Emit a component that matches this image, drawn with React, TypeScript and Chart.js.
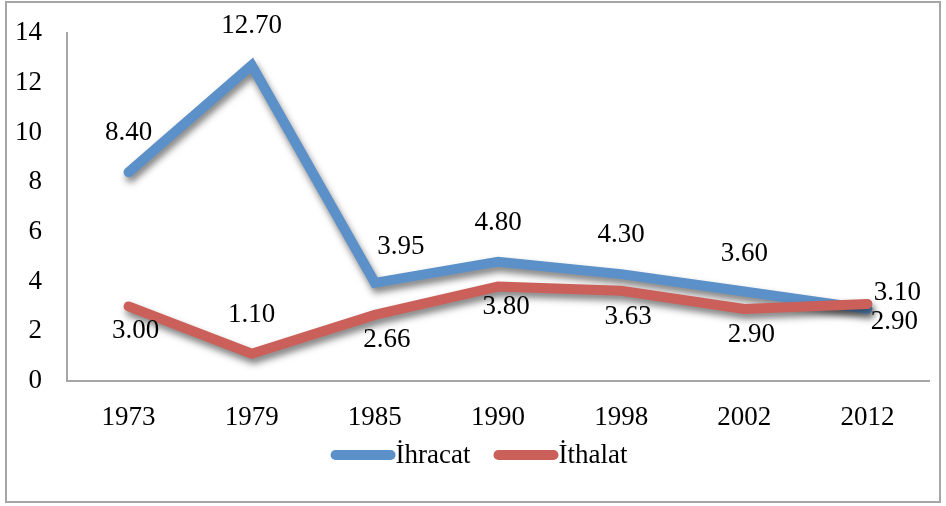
import React, { useEffect, useRef } from 'react';
import { Chart, registerables } from 'chart.js';

Chart.register(...registerables);

const categories = ['1973', '1979', '1985', '1990', '1998', '2002', '2012'];
const ihracat = [8.40, 12.70, 3.95, 4.80, 4.30, 3.60, 2.90];
const ithalat = [3.00, 1.10, 2.66, 3.80, 3.63, 2.90, 3.10];
const seriesNames = ['İhracat', 'İthalat'];

// label offsets (dx, dy) relative to each point, in px
const ihracatLabelOffsets = [[0, -39], [0, -39], [26, -36], [0, -39], [0, -39], [0, -38], [27, 13]];
const ithalatLabelOffsets = [[7, 24], [0, -39], [12, 25], [8, 20], [7, 26], [7, 26], [30, -11]];

const FONT = '"Liberation Serif", "Times New Roman", serif';
const BLUE = '#5B90C8';
const RED = '#CB5F59';
const AXIS = '#A6A6A6';

const shadowPlugin = {
  id: 'lineShadow',
  beforeDatasetsDraw(chart: any) {
    const ctx = chart.ctx;
    ctx.save();
    ctx.shadowColor = 'rgba(0,0,0,0.5)';
    ctx.shadowBlur = 7;
    ctx.shadowOffsetX = 2;
    ctx.shadowOffsetY = 5;
  },
  afterDatasetsDraw(chart: any) {
    chart.ctx.restore();
  },
};

const labelPlugin = {
  id: 'dataLabels',
  afterDatasetsDraw(chart: any) {
    const ctx = chart.ctx;
    const offsets = [ihracatLabelOffsets, ithalatLabelOffsets];
    ctx.save();
    ctx.font = `27px ${FONT}`;
    ctx.fillStyle = '#000';
    ctx.textAlign = 'center';
    ctx.textBaseline = 'middle';
    chart.data.datasets.forEach((ds: any, di: number) => {
      const meta = chart.getDatasetMeta(di);
      meta.data.forEach((el: any, i: number) => {
        const [dx, dy] = offsets[di][i];
        ctx.fillText(Number(ds.data[i]).toFixed(2), el.x + dx, el.y + dy);
      });
    });
    ctx.restore();
  },
};

const legendPlugin = {
  id: 'customLegend',
  afterDraw(chart: any) {
    const ctx = chart.ctx;
    const lineLen = 65;
    const lw = 10;
    const gap = 23;
    const y = 455;
    ctx.save();
    ctx.font = `27px ${FONT}`;
    const items = chart.data.datasets.map((ds: any) => ({
      text: ds.label,
      color: ds.borderColor,
      w: ctx.measureText(ds.label).width,
    }));
    const total = items.reduce((s: number, it: any) => s + lineLen + it.w, 0) + gap * (items.length - 1);
    let x = chart.width / 2 + 6 - total / 2;
    items.forEach((it: any) => {
      ctx.strokeStyle = it.color;
      ctx.lineWidth = lw;
      ctx.lineCap = 'round';
      ctx.beginPath();
      ctx.moveTo(x + lw / 2, y);
      ctx.lineTo(x + lineLen - lw / 2, y);
      ctx.stroke();
      ctx.fillStyle = '#000';
      ctx.textAlign = 'left';
      ctx.textBaseline = 'middle';
      ctx.fillText(it.text, x + lineLen, y + 1);
      x += lineLen + it.w + gap;
    });
    ctx.restore();
  },
};

export default function App() {
  const ref = useRef<HTMLCanvasElement>(null);
  useEffect(() => {
    if (!ref.current) return;
    const chart = new Chart(ref.current, {
      type: 'line',
      data: {
        labels: categories,
        datasets: [
          {
            label: seriesNames[0],
            data: ihracat,
            borderColor: BLUE,
            backgroundColor: BLUE,
            borderWidth: 10,
            pointRadius: 0,
            borderCapStyle: 'round',
            borderJoinStyle: 'miter',
            tension: 0,
            order: 1,
          },
          {
            label: seriesNames[1],
            data: ithalat,
            borderColor: RED,
            backgroundColor: RED,
            borderWidth: 10,
            pointRadius: 0,
            borderCapStyle: 'round',
            borderJoinStyle: 'miter',
            tension: 0,
            order: 0,
          },
        ],
      },
      options: {
        responsive: false,
        animation: false,
        layout: { padding: { left: 15, right: 17, top: 33, bottom: 72 } },
        scales: {
          x: {
            offset: true,
            grid: { display: false, drawTicks: false },
            border: { display: true, color: AXIS, width: 2 },
            ticks: { color: '#000', font: { family: FONT, size: 27 }, padding: 21 },
            afterFit(scale: any) {
              scale.height = 53;
            },
          },
          y: {
            min: 0,
            max: 14,
            grid: { display: false, drawTicks: false },
            border: { display: true, color: AXIS, width: 2 },
            ticks: { stepSize: 2, color: '#000', font: { family: FONT, size: 27 }, padding: 25 },
            afterFit(scale: any) {
              scale.width = 52;
              scale.paddingTop = 10;
              scale.paddingBottom = 10;
            },
          },
        },
        plugins: {
          legend: { display: false },
          tooltip: { enabled: false },
        },
      },
      plugins: [shadowPlugin, labelPlugin, legendPlugin],
    });
    return () => chart.destroy();
  }, []);
  return (
    <div style={{ position: 'fixed', left: 0, top: 0, width: 946, height: 506, background: '#fff' }}>
      <div
        style={{
          position: 'absolute',
          left: 5,
          top: 1,
          width: 936,
          height: 502,
          border: `2px solid ${AXIS}`,
          boxSizing: 'border-box',
        }}
      />
      <canvas ref={ref} width={946} height={506} style={{ position: 'absolute', left: 0, top: 0 }} />
    </div>
  );
}
